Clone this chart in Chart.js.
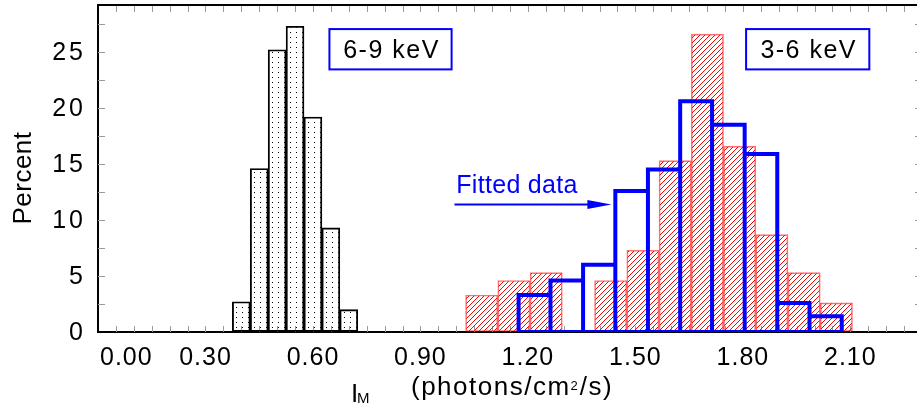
<!DOCTYPE html>
<html>
<head>
<meta charset="utf-8">
<script src="https://cdn.jsdelivr.net/npm/chart.js@4.4.0/dist/chart.umd.min.js"></script>
<style>
  html, body { margin: 0; padding: 0; background: #fff; overflow: hidden; }
  #wrap { width: 925px; height: 409px; }
</style>
</head>
<body>
<div id="wrap"><canvas id="histChart" width="925" height="409"></canvas></div>
<script>
// 6-9 keV histogram (bin centres, percent)
const hardCenters = [0.40, 0.45, 0.50, 0.55, 0.60, 0.65, 0.70];
const hardPercent = [2.7, 14.6, 25.2, 27.3, 19.2, 9.3, 2.0];

// 3-6 keV histogram (bin centres, percent)
const softCenters = [1.071, 1.161, 1.251, 1.341, 1.431, 1.521, 1.611, 1.701, 1.791, 1.881, 1.971, 2.061];
const softPercent = [3.3, 4.6, 5.3, 0, 4.6, 7.3, 15.3, 26.6, 16.6, 8.7, 5.3, 2.6];

// fitted data, outline histogram (bin edges, percent)
const fitEdges = [1.174, 1.263, 1.354, 1.444, 1.535, 1.625, 1.714, 1.805, 1.896, 1.986, 2.076];
const fitPercent = [3.3, 4.6, 6.0, 12.6, 14.5, 20.6, 18.5, 15.9, 2.6, 1.4];

// axes
const xTickValues = [0, 0.3, 0.6, 0.9, 1.2, 1.5, 1.8, 2.1];
const yTickValues = [0, 5, 10, 15, 20, 25];
const xMax = 2.3, yMax = 29.2;

const FONT = '"Liberation Sans", Arial, Helvetica, sans-serif';

// fill patterns
function dotPattern() {
    const c = document.createElement('canvas');
    c.width = 6; c.height = 5;
    const g = c.getContext('2d');
    g.fillStyle = '#000';
    g.fillRect(2, 2, 1, 1);
    return g.createPattern(c, 'repeat');
}
function hatchPattern() {
    const n = 5;
    const c = document.createElement('canvas');
    c.width = n; c.height = n;
    const g = c.getContext('2d');
    g.strokeStyle = '#ff0000';
    g.lineWidth = 1;
    g.beginPath();
    g.moveTo(0, n); g.lineTo(n, 0);
    g.moveTo(-1, 1); g.lineTo(1, -1);
    g.moveTo(n - 1, n + 1); g.lineTo(n + 1, n - 1);
    g.stroke();
    return g.createPattern(c, 'repeat');
}

// outline path for the fitted histogram: each bin as its own rectangle
function outline(edges, values) {
    const pts = [{x: edges[0], y: 0}];
    values.forEach(function(v, i) {
        pts.push({x: edges[i], y: v}, {x: edges[i + 1], y: v}, {x: edges[i + 1], y: 0});
    });
    pts.push({x: edges[0], y: 0});
    return pts;
}

function txt(ctx, s, x, y, size, color, align, spacing) {
    ctx.font = size + 'px ' + FONT;
    ctx.fillStyle = color;
    ctx.textAlign = align || 'left';
    ctx.letterSpacing = (spacing || 0) + 'px';
    ctx.fillText(s, x, y);
}

const decorations = {
    id: 'decorations',
    beforeDatasetsDraw(chart) {
        const ctx = chart.ctx, a = chart.chartArea;
        const xs = chart.scales.x, ys = chart.scales.y;
        ctx.save();
        ctx.strokeStyle = '#9a9a9a';
        ctx.lineWidth = 1;
        ctx.beginPath();
        for (let i = 1; i * 0.05 < xMax; i++) {
            const px = Math.round(xs.getPixelForValue(i * 0.05)) + 0.5;
            ctx.moveTo(px, a.bottom); ctx.lineTo(px, a.bottom - 6);
            ctx.moveTo(px, a.top); ctx.lineTo(px, a.top + 7);
        }
        for (let j = 1; j * 2.5 < yMax; j++) {
            const py = Math.round(ys.getPixelForValue(j * 2.5)) + 0.5;
            ctx.moveTo(a.left, py); ctx.lineTo(a.left + 7, py);
            ctx.moveTo(a.right, py); ctx.lineTo(a.right - 7, py);
        }
        ctx.stroke();
        ctx.restore();
    },
    afterDraw(chart) {
        const ctx = chart.ctx, a = chart.chartArea;
        const xs = chart.scales.x, ys = chart.scales.y;
        ctx.save();
        // top frame line
        ctx.strokeStyle = '#000';
        ctx.lineWidth = 2;
        ctx.beginPath();
        ctx.moveTo(a.left - 1, a.top); ctx.lineTo(a.right, a.top); ctx.lineTo(a.right, a.bottom);
        ctx.stroke();

        // tick labels
        ctx.textBaseline = 'alphabetic';
        xTickValues.forEach(function(v) {
            const s = v.toFixed(2);
            ctx.font = '25px ' + FONT;
            ctx.letterSpacing = '1px';
            const w = ctx.measureText(s).width;
            const cx = Math.max(xs.getPixelForValue(v), a.left + 2 + w / 2);
            txt(ctx, s, cx, a.bottom + 33, 25, '#000', 'center', 1);
        });
        ctx.textBaseline = 'middle';
        yTickValues.forEach(function(v) {
            txt(ctx, String(v), a.left - 12, ys.getPixelForValue(v) + 1, 25, '#000', 'right', 3);
        });

        // axis titles
        ctx.textBaseline = 'alphabetic';
        txt(ctx, 'I', 351, 402, 26, '#000', 'left', 0);
        txt(ctx, 'M', 357, 403, 15, '#000', 'left', 0);
        ctx.font = '26px ' + FONT;
        ctx.letterSpacing = '1.5px';
        let x0 = 411;
        txt(ctx, '(photons/cm', x0, 395, 26, '#000', 'left', 1.5);
        x0 += ctx.measureText('(photons/cm').width;
        txt(ctx, '2', x0, 390, 13, '#000', 'left', 1);
        ctx.font = '13px ' + FONT;
        x0 += ctx.measureText('2').width + 1;
        txt(ctx, '/s)', x0, 395, 26, '#000', 'left', 1.5);

        ctx.save();
        ctx.translate(31, 178);
        ctx.rotate(-Math.PI / 2);
        txt(ctx, 'Percent', 0, 0, 26, '#000', 'center', 0.5);
        ctx.restore();

        // energy band boxes
        function box(label, x1, x2) {
            const l = xs.getPixelForValue(x1), r = xs.getPixelForValue(x2);
            const t = ys.getPixelForValue(27.05), b = ys.getPixelForValue(23.45);
            ctx.fillStyle = '#fff';
            ctx.fillRect(l, t, r - l, b - t);
            ctx.strokeStyle = '#0000ff';
            ctx.lineWidth = 2;
            ctx.strokeRect(l, t, r - l, b - t);
            txt(ctx, label, (l + r) / 2 + 1, b - 11, 25, '#000', 'center', 1.5);
        }
        box('6-9 keV', 0.646, 0.987);
        box('3-6 keV', 1.809, 2.153);

        // fitted data arrow
        const ay = ys.getPixelForValue(11.38);
        const ax1 = xs.getPixelForValue(0.995), ax2 = xs.getPixelForValue(1.433);
        ctx.strokeStyle = '#0000ff';
        ctx.fillStyle = '#0000ff';
        ctx.lineWidth = 2;
        ctx.beginPath();
        ctx.moveTo(ax1, ay); ctx.lineTo(ax2 - 20, ay);
        ctx.stroke();
        ctx.beginPath();
        ctx.moveTo(ax2, ay); ctx.lineTo(ax2 - 24, ay - 4.5); ctx.lineTo(ax2 - 24, ay + 4.5);
        ctx.closePath();
        ctx.fill();
        txt(ctx, 'Fitted data', xs.getPixelForValue(1.0), ys.getPixelForValue(12.41), 25, '#0000ff', 'left', 0.3);
        ctx.restore();
    }
};

document.addEventListener('DOMContentLoaded', function() {
    const ctx = document.getElementById('histChart').getContext('2d');

    const hiddenX = {
        type: 'linear', axis: 'x', position: 'bottom', display: false,
        min: 0, max: xMax, offset: false
    };

    new Chart(ctx, {
        type: 'bar',
        data: {
            datasets: [{
                type: 'line',
                label: 'Fitted data',
                data: outline(fitEdges, fitPercent),
                xAxisID: 'x',
                borderColor: '#0000ff',
                borderWidth: 4,
                borderJoinStyle: 'miter',
                pointRadius: 0,
                fill: false,
                tension: 0,
                order: 0
            }, {
                label: '3-6 keV',
                data: softCenters.map(function(x, i) { return {x: x, y: softPercent[i]}; }),
                xAxisID: 'xSoft',
                backgroundColor: hatchPattern(),
                borderColor: 'rgba(255, 0, 0, 0.55)',
                borderWidth: 1,
                borderSkipped: false,
                grouped: false,
                barPercentage: 1,
                categoryPercentage: 1,
                order: 1
            }, {
                label: '6-9 keV',
                data: hardCenters.map(function(x, i) { return {x: x, y: hardPercent[i]}; }),
                xAxisID: 'xHard',
                backgroundColor: dotPattern(),
                borderColor: '#000',
                borderWidth: 1.2,
                borderSkipped: false,
                grouped: false,
                barPercentage: 1,
                categoryPercentage: 1,
                order: 2
            }]
        },
        options: {
            responsive: false,
            animation: false,
            layout: {
                padding: { left: 98, right: 3, top: 5, bottom: 77 }
            },
            scales: {
                x: {
                    type: 'linear', position: 'bottom',
                    min: 0, max: xMax, offset: false,
                    grid: { offset: false, drawOnChartArea: false, drawTicks: false },
                    border: { display: true, color: '#000', width: 2 },
                    ticks: { display: false }
                },
                xSoft: hiddenX,
                xHard: hiddenX,
                y: {
                    type: 'linear', position: 'left',
                    min: 0, max: yMax,
                    grid: { drawOnChartArea: false, drawTicks: false },
                    border: { display: true, color: '#000', width: 2 },
                    ticks: { display: false }
                }
            },
            plugins: {
                legend: { display: false },
                tooltip: { enabled: false }
            }
        },
        plugins: [decorations]
    });
});
</script>
</body>
</html>
